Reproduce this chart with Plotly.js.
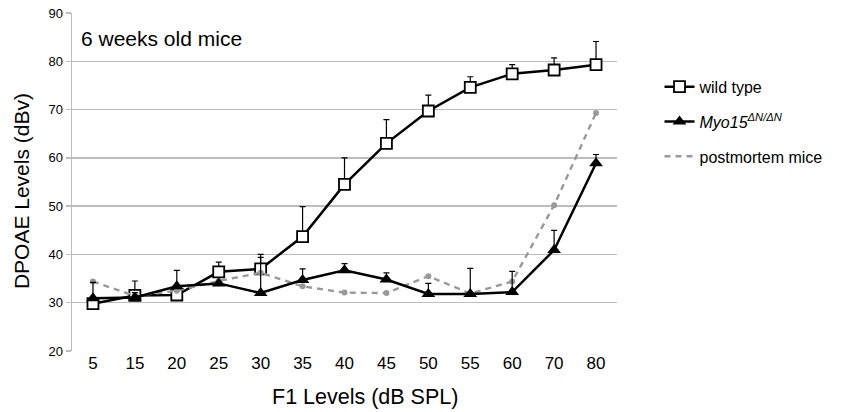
<!DOCTYPE html>
<html>
<head>
<meta charset="utf-8">
<script src="https://cdn.plot.ly/plotly-3.0.1.min.js"></script>
<style>
  html, body { margin: 0; padding: 0; background: #fff; }
  #chart { width: 850px; height: 412px; }
</style>
</head>
<body>
<div id="chart"></div>
<script>
// F1 stimulus levels (dB SPL)
const categories = ['5', '15', '20', '25', '30', '35', '40', '45', '50', '55', '60', '70', '80'];

// Mean DPOAE levels (dBv) and upper error (SD)
const wildType    = [29.8, 31.5, 31.6, 36.4, 37.0, 43.7, 54.5, 63.0, 69.7, 74.6, 77.4, 78.2, 79.3];
const wildTypeErr = [0.0, 3.0, 0.0, 2.0, 3.0, 6.2, 5.5, 4.9, 3.3, 2.2, 1.9, 2.5, 4.8];

const myo15    = [30.9, 31.1, 33.4, 34.0, 32.0, 34.7, 36.7, 34.8, 31.8, 31.8, 32.2, 40.9, 58.9];
const myo15Err = [3.3, 1.0, 3.3, 0.0, 7.4, 2.3, 1.4, 1.4, 2.2, 5.3, 4.3, 4.1, 1.8];

const postmortem = [34.4, 31.4, 32.5, 34.5, 36.2, 33.4, 32.1, 32.0, 35.5, 31.9, 34.4, 50.2, 69.3];

const yTicks = [20, 30, 40, 50, 60, 70, 80, 90];

const zeros = categories.map(() => 0);
const FONT = 'Liberation Sans, Arial, sans-serif';

const traces = [
  {
    name: 'wild type',
    x: categories, y: wildType,
    type: 'scatter', mode: 'lines+markers',
    line: { color: '#000', width: 2.5 },
    marker: { symbol: 'square', size: 11, color: '#fff', line: { color: '#000', width: 1.8 } },
    error_y: { type: 'data', symmetric: false, array: wildTypeErr, arrayminus: zeros,
               color: '#000', thickness: 1.2, width: 3 },
    legendrank: 1, legendgroup: 'a'
  },
  // postmortem: dashed line (shown in legend) plus its dot markers
  {
    name: 'postmortem mice',
    x: categories, y: postmortem,
    type: 'scatter', mode: 'lines',
    line: { color: '#999', width: 2.4, dash: '6px,5px' },
    legendrank: 3, legendgroup: 'c'
  },
  {
    name: 'postmortem mice',
    x: categories, y: postmortem,
    type: 'scatter', mode: 'markers',
    marker: { symbol: 'circle', size: 6, color: '#999' },
    showlegend: false, legendgroup: 'c'
  },
  {
    name: '<i>Myo15</i><sup><i>ΔN/ΔN</i></sup>',
    x: categories, y: myo15,
    type: 'scatter', mode: 'lines+markers',
    line: { color: '#000', width: 2.5 },
    marker: { symbol: 'triangle-up', size: 12, color: '#000' },
    error_y: { type: 'data', symmetric: false, array: myo15Err, arrayminus: zeros,
               color: '#000', thickness: 1.2, width: 3 },
    legendrank: 2, legendgroup: 'b'
  }
];

const layout = {
  width: 850, height: 412,
  margin: { l: 72, r: 233, t: 13, b: 61 },
  paper_bgcolor: '#fff', plot_bgcolor: '#fff',
  font: { family: FONT, color: '#000' },
  showlegend: true,
  legend: {
    x: 1.078, y: 0.832, xanchor: 'left', yanchor: 'top',
    font: { size: 16, family: FONT },
    itemwidth: 30, tracegroupgap: 11,
    bgcolor: 'rgba(0,0,0,0)', traceorder: 'grouped'
  },
  xaxis: {
    type: 'category', categoryorder: 'array', categoryarray: categories,
    range: [-0.5, categories.length - 0.5],
    showgrid: false, zeroline: false, showline: false,
    ticks: '', tickfont: { size: 17 }
  },
  yaxis: {
    range: [20, 90], tickvals: yTicks,
    showgrid: true, gridcolor: '#bdbdbd', gridwidth: 1.5,
    zeroline: false, showline: true, linecolor: '#bdbdbd', linewidth: 1.5,
    ticks: 'outside', ticklen: 5, tickcolor: '#bdbdbd', tickwidth: 1.5,
    tickfont: { size: 13 }
  },
  annotations: [
    {
      text: '6 weeks old mice', xref: 'paper', yref: 'paper',
      x: 0.013, y: 0.925, xanchor: 'left', yanchor: 'middle',
      showarrow: false, font: { size: 21 }
    },
    // axis titles
    {
      text: 'F1 Levels (dB SPL)', xref: 'paper', yref: 'paper',
      x: 0.5376, y: -0.136, xanchor: 'center', yanchor: 'middle',
      showarrow: false, font: { size: 21.5 }
    },
    {
      text: 'DPOAE Levels (dBv)', xref: 'paper', yref: 'paper',
      x: -0.0936, y: 0.473, xanchor: 'center', yanchor: 'middle',
      textangle: -90, showarrow: false, font: { size: 21 }
    }
  ]
};

Plotly.newPlot('chart', traces, layout, { displayModeBar: false, staticPlot: true });
</script>
</body>
</html>
